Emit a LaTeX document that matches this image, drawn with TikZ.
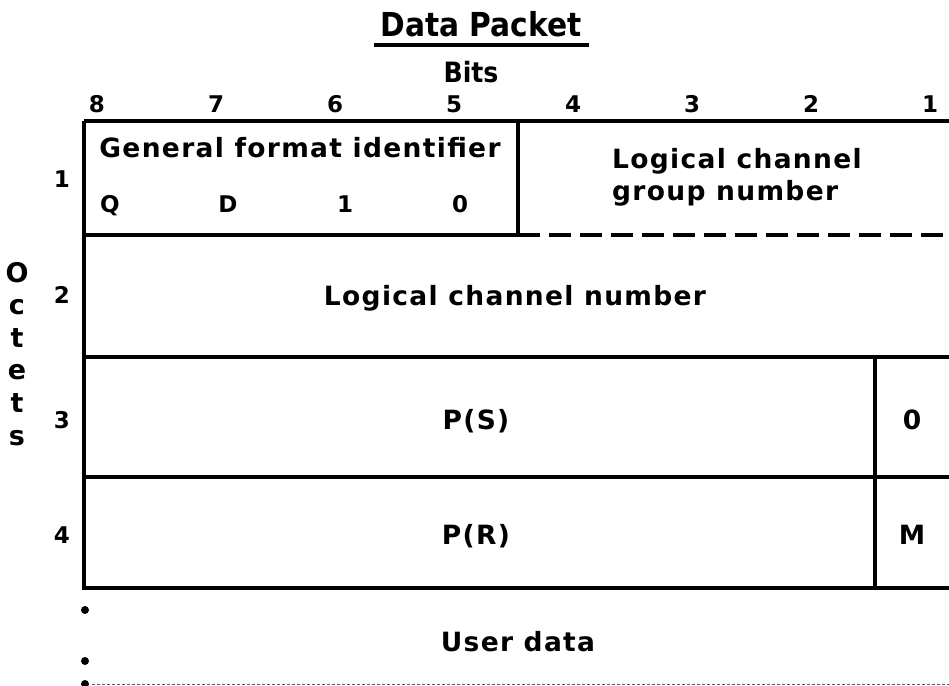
\documentclass[tikz,border=0pt]{standalone}
\usepackage{fontspec}
\setmainfont{DejaVu Sans}[LetterSpace=5]
\newfontfamily\titlefont{DejaVu Sans Condensed}
\usetikzlibrary{positioning}
\tikzset{
  >=latex,
  x=1pt, y=-1pt,
}
\tikzstyle{field}=[line width=3.5pt]
\tikzstyle{every node}=[font=\bfseries\fontsize{26.5}{30}\selectfont,inner sep=0pt]
\tikzstyle{txt}=[anchor=base]
\tikzstyle{bitno}=[anchor=base,font=\bfseries\fontsize{23}{27}\selectfont]
\tikzstyle{rowno}=[anchor=base,font=\bfseries\fontsize{23}{27}\selectfont]

\begin{document}
\begin{tikzpicture}
    \useasboundingbox (0,0) rectangle (949,685);
    % title
    \node[txt,font=\titlefont\bfseries\fontsize{33}{38}\selectfont] (title) at (481,37) {Data Packet};
    \draw[line width=3.5pt] (374,45)--(589,45);
    \node[txt,font=\titlefont\bfseries\fontsize{28}{32}\selectfont] (bits) at (471,82) {Bits};
    \foreach \b [count=\i from 0] in {8,7,6,5,4,3,2,1}
      \node[bitno] (bit\b) at (97+119*\i,112) {\b};
    % frame
    \draw[field] (84,121)--(949,121);
    \draw[field] (84,121)--(84,588)--(949,588);
    \draw[field] (518,121)--(518,235);
    \draw[field] (84,235)--(518,235);
    \draw[field,dash pattern=on 22pt off 9pt] (518,235)--(949,235);
    \draw[field] (84,357)--(949,357);
    \draw[field] (84,477)--(949,477);
    \draw[field] (875,357)--(875,588);
    \draw[densely dashed,gray!70!black,line width=1pt] (92,684)--(949,684);
    % octet 1
    \node[txt] (gfi) at (300,157) {General format identifier};
    \foreach \t/\x in {Q/110,D/228,1/345,0/460}
      \node[bitno] (gfi\t) at (\x,212) {\t};
    \node[txt,anchor=base west] (lcg1) at (612,168) {Logical channel};
    \node[txt,anchor=base west] (lcg2) at (612,200) {group number};
    % octet 2
    \node[txt] (lcn) at (515,305) {Logical channel number};
    % octets 3 and 4
    \node[txt] (ps) at (476,429) {P(S)};
    \node[txt] (zero) at (912,429) {0};
    \node[txt] (pr) at (476,544) {P(R)};
    \node[txt] (more) at (912,544) {M};
    % user data
    \node[txt] (user) at (518,651) {User data};
    \foreach \y in {610,661,684}
      \fill (85,\y) circle (4);
    % octet numbers
    \foreach \n/\y in {1/187,2/303,3/428,4/543}
      \node[rowno] (oct\n) at (62,\y) {\n};
    \foreach \c [count=\i from 0] in {O,c,t,e,t,s}
      \node[anchor=base,font=\bfseries\fontsize{27}{30}\selectfont] (side\i) at (17,282+32.6*\i) {\c};
  \end{tikzpicture}
\end{document}
